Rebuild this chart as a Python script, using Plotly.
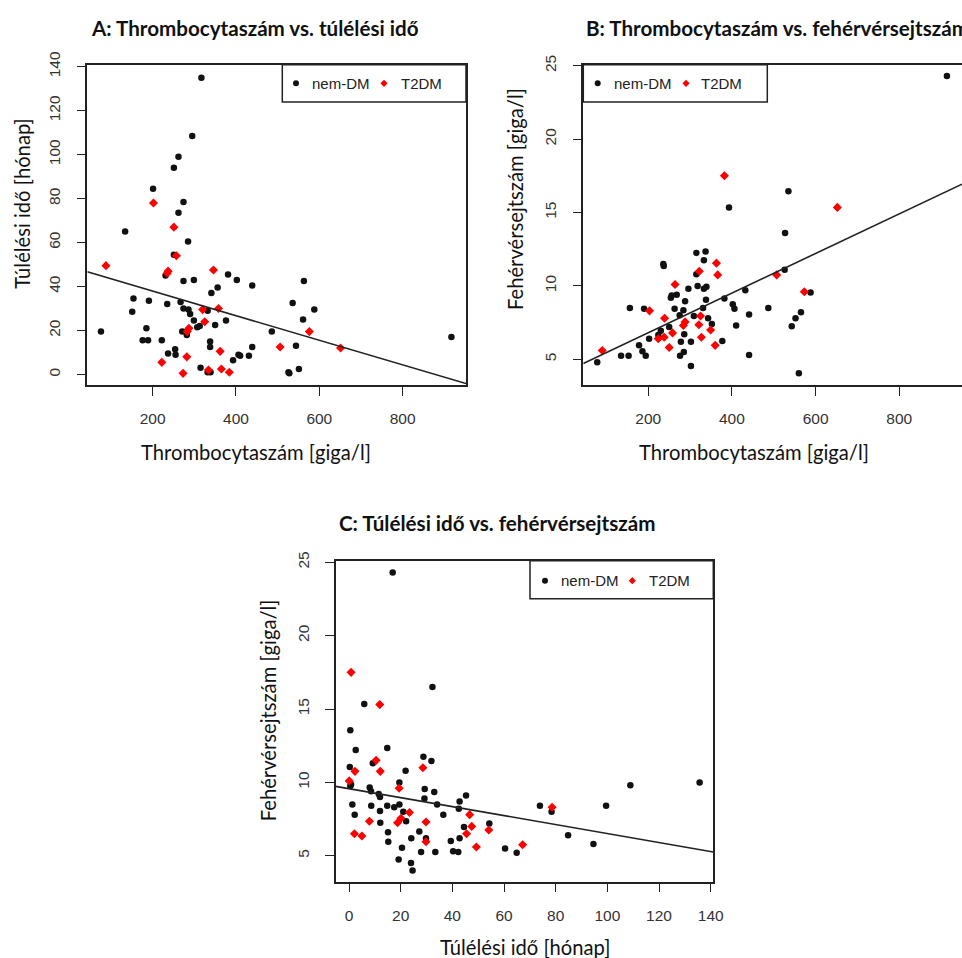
import plotly.graph_objects as go

W, H = 962, 958

# ---------------- data ----------------
# Panel A: platelet count vs survival
a_nondm_plt = [317, 295, 262, 251, 201, 274, 262, 134, 285, 251, 231, 274, 299, 381, 402, 439, 356, 341,
               563, 154, 191, 235, 267, 274, 286, 290, 332, 299, 151, 536, 588, 561, 376, 350, 307, 313,
               185, 271, 282, 76, 486, 917, 176, 189, 222, 338, 254, 338, 439, 544, 237, 255, 406, 410,
               431, 393, 315, 332, 339, 526, 528, 551]
a_nondm_surv = [135, 108.5, 99, 94, 84.5, 78.5, 73.5, 65, 60.5, 54.5, 45, 42.5, 43, 45.5, 43, 40.5, 39.5, 37,
                42.5, 34.5, 33.5, 32, 33, 30, 29.5, 27.5, 29, 24.5, 28.5, 32.5, 29.5, 25, 24.5, 22.5, 21.5, 22,
                21, 19.5, 18, 19.5, 19.5, 17, 15.5, 15.5, 15.5, 15, 11.5, 12.5, 12.5, 13, 9.5, 9, 9, 8.5,
                8.5, 6.5, 3, 1, 1, 1, 0.5, 2.5]
a_t2dm_plt = [202, 251, 257, 88, 237, 235, 346, 320, 358, 325, 287, 283, 576, 506, 651, 362, 282, 222,
              273, 334, 365, 384]
a_t2dm_surv = [78, 67, 54, 49.5, 47, 46, 47.5, 29.5, 30, 24, 21, 19.5, 19.5, 12.5, 12, 10.5, 8, 5.5,
               0.5, 2, 2.5, 1]
a_fit = [49.1, -0.0559]          # intercept, slope

# Panel B: platelet count vs white blood cell count
b_nondm_plt = [914, 535, 393, 527, 315, 337, 333, 236, 237, 315, 526, 318, 296, 333, 339, 256, 254, 268,
               288, 338, 382, 432, 588, 156, 190, 263, 284, 331, 402, 406, 275, 309, 343, 441, 487, 565,
               552, 250, 352, 410, 543, 230, 224, 202, 286, 178, 186, 194, 278, 302, 377, 135, 153, 276,
               285, 441, 302, 78, 560]
b_nondm_wbc = [24.3, 16.45, 15.35, 13.6, 12.25, 12.35, 11.75, 11.5, 11.35, 10.8, 11.1, 10.0, 9.8, 9.8, 9.95,
               9.35, 9.2, 9.4, 8.95, 9.05, 9.15, 9.7, 9.55, 8.5, 8.45, 8.45, 8.35, 8.5, 8.75, 8.45, 8.0,
               7.95, 7.8, 8.05, 8.5, 8.2, 7.8, 7.2, 7.4, 7.3, 7.25, 6.95, 6.65, 6.4, 6.7, 5.95, 5.55, 5.25,
               6.2, 6.2, 6.25, 5.25, 5.25, 5.25, 5.5, 5.3, 4.55, 4.8, 4.05]
b_t2dm_plt = [382, 652, 363, 322, 366, 507, 264, 573, 203, 239, 325, 288, 284, 321, 349, 258, 224, 238,
              327, 250, 360, 90]
b_t2dm_wbc = [17.5, 15.35, 11.55, 11.0, 10.75, 10.75, 10.1, 9.6, 8.3, 7.8, 7.95, 7.55, 7.3, 7.35, 7.0,
              6.8, 6.4, 6.5, 6.5, 5.8, 5.95, 5.6]
b_fit = [4.11, 0.0135]

# Panel C: survival vs white blood cell count
c_nondm_surv = [16.9, 32.3, 5.9, 0.5, 2.6, 14.8, 28.8, 31.9, 0.3, 9.2, 21.9, 0.8, 0.5, 19.5, 8, 8.5, 11.5,
                12, 29.3, 33, 29.2, 45.3, 42.8, 1.3, 8.6, 14.8, 17.5, 19.5, 34.1, 42.5, 73.9, 99.5, 108.9,
                135.7, 78.4, 2.2, 12, 21, 12.1, 22.1, 36.5, 54.3, 44.5, 15.1, 27.2, 15.2, 24.1, 29.8, 39.4,
                42.8, 84.8, 94.6, 20.5, 60.4, 64.9, 27.9, 33.4, 40.3, 42.3, 19.2, 24, 24.6]
c_nondm_wbc = [24.3, 16.5, 15.35, 13.55, 12.2, 12.35, 11.75, 11.45, 11.05, 11.3, 10.8, 9.85, 9.75, 10.0,
               9.65, 9.4, 9.2, 9.0, 9.55, 9.35, 8.9, 9.1, 8.7, 8.5, 8.4, 8.4, 8.3, 8.5, 8.5, 8.2, 8.4, 8.4,
               9.8, 10.0, 8.0, 7.8, 8.05, 8.0, 7.25, 7.35, 7.8, 7.2, 6.95, 6.6, 6.65, 5.95, 6.2, 6.2, 6.0,
               6.2, 6.4, 5.8, 5.55, 5.5, 5.2, 5.25, 5.25, 5.3, 5.25, 4.75, 4.5, 4.0]
c_t2dm_surv = [0.8, 11.9, 10.5, 28.6, 2.3, 12.1, 0.1, 19.4, 78.6, 23.4, 46.7, 7.9, 18.8, 20.1, 29.8, 47.5,
               45.5, 54.1, 2.1, 5, 29.8, 49.3, 67.2]
c_t2dm_wbc = [17.5, 15.3, 11.5, 11.0, 10.75, 10.75, 10.1, 9.6, 8.3, 7.95, 7.8, 7.35, 7.25, 7.55, 7.3, 7.0,
              6.5, 6.75, 6.5, 6.35, 5.95, 5.6, 5.75]
c_fit = [9.57, -0.0306]

groups = ["nem-DM", "T2DM"]
plt_ticks = [200, 400, 600, 800]
surv_ticks_a = [0, 20, 40, 60, 80, 100, 120, 140]
surv_ticks_c = [0, 20, 40, 60, 80, 100, 120, 140]
wbc_ticks = [5, 10, 15, 20, 25]

titles = ["A: Thrombocytaszám vs. túlélési idő",
          "B: Thrombocytaszám vs. fehérvérsejtszám",
          "C: Túlélési idő vs. fehérvérsejtszám"]
lab_plt = "Thrombocytaszám [giga/l]"
lab_surv = "Túlélési idő [hónap]"
lab_wbc = "Fehérvérsejtszám [giga/l]"

# ---------------- layout helpers ----------------
def fx(p):
    return p / W

def fy(p):
    return 1 - p / H

TICKFONT = dict(family="Liberation Sans, Arial, sans-serif", size=15.5, color="#333333")
TEXTFONT = "Lato, 'Open Sans', sans-serif"
BLACK = "#111111"
RED = "#ff0000"

def axis(domain, rng, ticks, angle=0, standoff=10):
    return dict(domain=domain, range=rng, tickvals=ticks, ticks="outside", ticklen=9, tickwidth=1.3,
                tickcolor="#222222", showline=True, mirror=True, linecolor="#222222", linewidth=1.5,
                showgrid=False, zeroline=False, tickfont=TICKFONT, tickangle=angle,
                ticklabelstandoff=standoff, fixedrange=True, automargin=False)

panels = [
    dict(xa="x", ya="y", xd=[fx(87.3), fx(466)], yd=[fy(385), fy(64.7)],
         xr=[43.2, 952], yr=[-4.8, 140.9], xt=plt_ticks, yt=surv_ticks_a,
         data=[(a_nondm_plt, a_nondm_surv), (a_t2dm_plt, a_t2dm_surv)], fit=a_fit,
         legbox=(282.3, 64.7, 466, 102), leg=(296, 310, 384, 399.3, 83.3)),
    dict(xa="x2", ya="y2", xd=[fx(583.3), 1.0], yd=[fy(385), fy(64.7)],
         xr=[44.7, 950], yr=[3.25, 25.07], xt=plt_ticks, yt=wbc_ticks,
         data=[(b_nondm_plt, b_nondm_wbc), (b_t2dm_plt, b_t2dm_wbc)], fit=b_fit,
         legbox=(583.3, 64.7, 767.3, 102), leg=(597.7, 611.7, 686, 699.3, 83.3)),
    dict(xa="x3", ya="y3", xd=[fx(335.7), fx(713.3)], yd=[fy(881.7), fy(560.7)],
         xr=[-5.15, 141], yr=[3.23, 25.11], xt=surv_ticks_c, yt=wbc_ticks,
         data=[(c_nondm_surv, c_nondm_wbc), (c_t2dm_surv, c_t2dm_wbc)], fit=c_fit,
         legbox=(530, 560.7, 713.3, 598.7), leg=(545, 559, 632.3, 646.7, 580.7)),
]

fig = go.Figure()
layout = dict(width=W, height=H, autosize=False, margin=dict(l=0, r=0, t=0, b=0, pad=0, autoexpand=False),
              paper_bgcolor="white", plot_bgcolor="white", showlegend=False, shapes=[], annotations=[])

for i, p in enumerate(panels):
    sfx = "" if i == 0 else str(i + 1)
    layout["xaxis" + sfx] = axis(p["xd"], p["xr"], p["xt"])
    layout["yaxis" + sfx] = axis(p["yd"], p["yr"], p["yt"], angle=-90)
    layout["xaxis" + sfx]["anchor"] = p["ya"]
    layout["yaxis" + sfx]["anchor"] = p["xa"]

    (x0, y0), (x1, y1) = p["data"]
    fig.add_trace(go.Scatter(x=x0, y=y0, mode="markers", name=groups[0], xaxis=p["xa"], yaxis=p["ya"],
                             marker=dict(symbol="circle", size=6.5, color=BLACK, line=dict(width=0))))
    fig.add_trace(go.Scatter(x=x1, y=y1, mode="markers", name=groups[1], xaxis=p["xa"], yaxis=p["ya"],
                             marker=dict(symbol="diamond", size=7, color=RED, line=dict(width=0))))
    b0, b1 = p["fit"]
    lx = list(p["xr"])
    fig.add_trace(go.Scatter(x=lx, y=[b0 + b1 * v for v in lx], mode="lines", xaxis=p["xa"], yaxis=p["ya"],
                             line=dict(color="#222222", width=1.6), hoverinfo="skip"))

    # legend box
    bx0, by0, bx1, by1 = p["legbox"]
    layout["shapes"].append(dict(type="rect", xref="paper", yref="paper", x0=fx(bx0), x1=fx(bx1),
                                 y0=fy(by1), y1=fy(by0), line=dict(color="#222222", width=1.5),
                                 fillcolor="white", layer="above"))
    dx, tx, rx, t2x, ly = p["leg"]
    layout["shapes"].append(dict(type="circle", xref="paper", yref="paper", xsizemode="pixel",
                                 ysizemode="pixel", xanchor=fx(dx), yanchor=fy(ly), x0=-3, x1=3, y0=-3, y1=3,
                                 fillcolor=BLACK, line=dict(width=0), layer="above"))
    layout["shapes"].append(dict(type="path", xref="paper", yref="paper", xsizemode="pixel",
                                 ysizemode="pixel", xanchor=fx(rx), yanchor=fy(ly),
                                 path="M0,3.6 L3.6,0 L0,-3.6 L-3.6,0 Z", fillcolor=RED, line=dict(width=0),
                                 layer="above"))
    for txt, xx in ((groups[0], tx), (groups[1], t2x)):
        layout["annotations"].append(dict(text=txt, xref="paper", yref="paper", x=fx(xx), y=fy(ly),
                                          xanchor="left", yanchor="middle", showarrow=False,
                                          font=dict(family="Liberation Sans, Arial, sans-serif", size=15,
                                                    color="#222222")))

# titles
for txt, xx, yy in ((titles[0], 89.3, 27.7), (titles[1], 584.3, 27.7), (titles[2], 337.3, 522.7)):
    layout["annotations"].append(dict(text="<b>" + txt + "</b>", xref="paper", yref="paper", x=fx(xx),
                                      y=fy(yy), xanchor="left", yanchor="middle", showarrow=False,
                                      font=dict(family=TEXTFONT, size=20.6, color="#111111")))
# axis titles
for txt, xx, yy in ((lab_plt, 139.3, 451.7), (lab_plt, 637, 451.7), (lab_surv, 438.3, 946.7)):
    layout["annotations"].append(dict(text=txt, xref="paper", yref="paper", x=fx(xx), y=fy(yy),
                                      xanchor="left", yanchor="middle", showarrow=False,
                                      font=dict(family=TEXTFONT, size=20.2, color="#111111")))
for txt, xx, yy in ((lab_surv, 21.7, 204), (lab_wbc, 515, 199), (lab_wbc, 268.3, 710)):
    layout["annotations"].append(dict(text=txt, xref="paper", yref="paper", x=fx(xx), y=fy(yy),
                                      xanchor="center", yanchor="middle", textangle=-90, showarrow=False,
                                      font=dict(family=TEXTFONT, size=20.2, color="#111111")))

fig.update_layout(**layout)
fig.write_html("out.html", config={"displayModeBar": False},
               post_script="document.body.style.margin='0';document.documentElement.style.overflow='hidden';")
